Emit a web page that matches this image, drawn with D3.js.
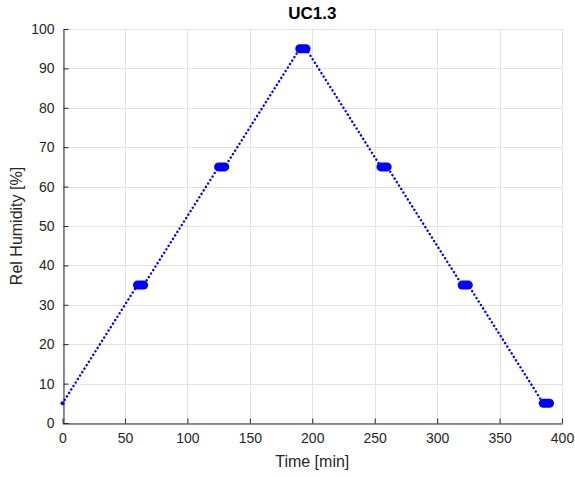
<!DOCTYPE html>
<html>
<head>
<meta charset="utf-8">
<script src="https://cdn.jsdelivr.net/npm/d3@7"></script>
<style>
  body { margin: 0; background: #fff; }
  svg { display: block; font-family: "Liberation Sans", Arial, sans-serif; }
</style>
</head>
<body>
<svg id="chart"></svg>
<script>
// UC1.3 humidity profile: ramp up / hold / ramp down
const timeMin = [0, 60, 65, 125, 130, 190, 195, 255, 260, 320, 325, 385, 390];
const relHumidity = [5, 35, 35, 65, 65, 95, 95, 65, 65, 35, 35, 5, 5];
const xTicks = [0, 50, 100, 150, 200, 250, 300, 350, 400];
const yTicks = [0, 10, 20, 30, 40, 50, 60, 70, 80, 90, 100];

const width = 575, height = 477;
const margin = { top: 29, right: 13, bottom: 54, left: 62.5 };

const svg = d3.select("#chart")
    .attr("width", width)
    .attr("height", height);

const x = d3.scaleLinear().domain([0, 400]).range([margin.left, width - margin.right]);
const y = d3.scaleLinear().domain([0, 100]).range([height - margin.bottom, margin.top]);

const points = timeMin.map((t, i) => ({ t, h: relHumidity[i] }));

// grid
const grid = svg.append("g").attr("stroke", "#e3e3e3").attr("stroke-width", 1);
grid.selectAll(".gx")
    .data(xTicks)
    .join("line")
    .attr("x1", d => Math.round(x(d)) + 0.5)
    .attr("x2", d => Math.round(x(d)) + 0.5)
    .attr("y1", y(0))
    .attr("y2", y(100));
grid.selectAll(".gy")
    .data(yTicks)
    .join("line")
    .attr("x1", x(0))
    .attr("x2", x(400))
    .attr("y1", d => Math.round(y(d)) + 0.5)
    .attr("y2", d => Math.round(y(d)) + 0.5);

// axes (ticks pointing inward, no box)
const xAxis = svg.append("g")
    .attr("transform", `translate(0,${Math.round(y(0)) + 0.5})`)
    .call(d3.axisBottom(x).tickValues(xTicks).tickSizeInner(-5).tickSizeOuter(0).tickPadding(10));
const yAxis = svg.append("g")
    .attr("transform", `translate(${Math.round(x(0)) + 0.5},0)`)
    .call(d3.axisLeft(y).tickValues(yTicks).tickSizeInner(-5).tickSizeOuter(0).tickPadding(9));

[xAxis, yAxis].forEach(a => {
    a.select(".domain").attr("stroke", "#262626");
    a.selectAll(".tick line").attr("stroke", "#262626");
    a.selectAll(".tick text")
        .attr("fill", "#262626")
        .style("font-size", "14px")
        .style("font-family", "'Liberation Sans', Arial, sans-serif");
});

// data line (dotted)
const line = d3.line().x(d => x(d.t)).y(d => y(d.h));
svg.append("path")
    .datum(points)
    .attr("fill", "none")
    .attr("stroke", "#0000ff")
    .attr("stroke-width", 2.4)
    .attr("stroke-linecap", "round")
    .attr("stroke-dasharray", "0.1,4")
    .attr("d", line);

// hold segments look like dense blobs of sample markers
const holds = d3.range(1, points.length, 2).map(i => [points[i], points[i + 1]]);
svg.append("g")
    .selectAll("path")
    .data(holds)
    .join("path")
    .attr("fill", "none")
    .attr("stroke", "#0000ff")
    .attr("stroke-width", 9)
    .attr("stroke-linecap", "round")
    .attr("d", line);

// start marker
svg.append("circle")
    .attr("cx", x(points[0].t))
    .attr("cy", y(points[0].h))
    .attr("r", 2)
    .attr("fill", "#0000ff");

// title and labels
svg.append("text")
    .attr("x", (x(0) + x(400)) / 2)
    .attr("y", 19)
    .attr("text-anchor", "middle")
    .attr("fill", "#000")
    .style("font-size", "17px")
    .style("font-weight", "bold")
    .text("UC1.3");

svg.append("text")
    .attr("x", (x(0) + x(400)) / 2)
    .attr("y", 467)
    .attr("text-anchor", "middle")
    .attr("fill", "#262626")
    .style("font-size", "16px")
    .text("Time [min]");

svg.append("text")
    .attr("transform", `translate(22,${(y(0) + y(100)) / 2}) rotate(-90)`)
    .attr("text-anchor", "middle")
    .attr("fill", "#262626")
    .style("font-size", "16px")
    .text("Rel Humidity [%]");
</script>
</body>
</html>
